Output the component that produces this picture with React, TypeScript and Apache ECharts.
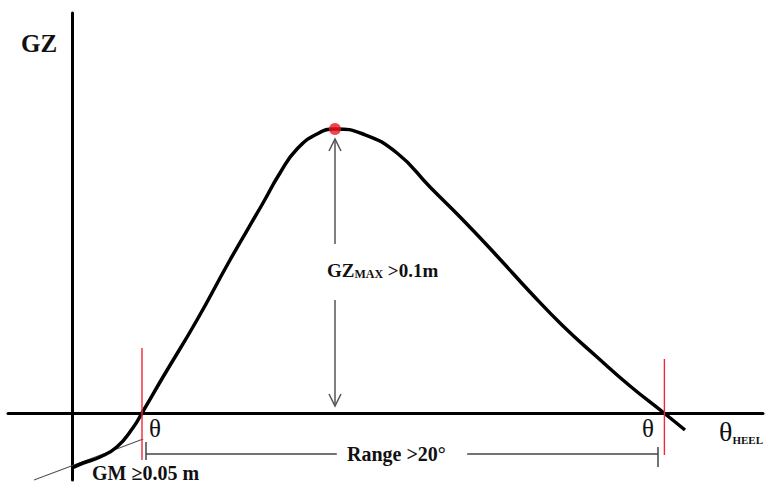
import React, { useEffect, useRef } from "react";
import * as echarts from "echarts";

// GZ curve: [heel angle (deg), GZ (m)]
const gzCurve: number[][] = [
  [0, -0.055], [1.4, -0.05], [3.5, -0.044], [5.6, -0.034], [7.6, -0.015],
  [8.75, 0], [11.375, 0.036], [15.625, 0.093], [19.75, 0.153], [23.875, 0.21],
  [26, 0.24], [28.125, 0.264], [30.625, 0.279], [32.875, 0.284], [36.375, 0.279],
  [40.625, 0.26], [44.75, 0.226], [48.875, 0.193], [53.125, 0.157], [57.25, 0.121],
  [61.375, 0.087], [65.625, 0.056], [69.75, 0.027], [74, 0], [76.625, -0.017],
];
const gzMaxPoint: number[][] = [[32.875, 0.284]];

// GM tangent line [x1, y1, x2, y2]
const tangentLine: number[][] = [[-4.75, -0.067, 8.9, -0.026]];
// red markers at the angles of vanishing stability [x1, y1, x2, y2]
const redMarkers: number[][] = [
  [8.75, 0.065, 8.75, -0.047],
  [74.05, 0.054, 74.05, -0.042],
];
// range dimension line and end ticks
const rangeLines: number[][] = [
  [9.25, -0.041, 33.1, -0.041],
  [49.4, -0.041, 73.25, -0.041],
  [9.25, -0.029, 9.25, -0.047],
  [73.25, -0.034, 73.25, -0.054],
];
// GZmax double arrow shafts: [x, yFrom, x, yTip]
const gzArrows: number[][] = [
  [32.875, 0.169, 32.875, 0.274],
  [32.875, 0.113, 32.875, 0.007],
];

const SERIF = '"Liberation Serif", "DejaVu Serif", serif';

function segRenderer(color: string, width: number, arrow: boolean) {
  return (params: any, api: any) => {
    const p1 = api.coord([api.value(0), api.value(1)]);
    const p2 = api.coord([api.value(2), api.value(3)]);
    const children: any[] = [
      {
        type: "line",
        shape: { x1: p1[0], y1: p1[1], x2: p2[0], y2: p2[1] },
        style: { stroke: color, lineWidth: width },
      },
    ];
    if (arrow) {
      const dir = p2[1] < p1[1] ? 1 : -1;
      children.push({
        type: "polyline",
        shape: {
          points: [
            [p2[0] - 6, p2[1] + dir * 12],
            [p2[0], p2[1]],
            [p2[0] + 6, p2[1] + dir * 12],
          ],
        },
        style: { stroke: color, lineWidth: width, fill: "none" },
      });
    }
    return { type: "group", children };
  };
}

export default function App() {
  const ref = useRef<HTMLDivElement>(null);
  useEffect(() => {
    if (!ref.current) return;
    const chart = echarts.init(ref.current, undefined, { renderer: "svg" });
    const axisCommon = {
      type: "value" as const,
      axisLine: { show: true, onZero: true, lineStyle: { color: "#000", width: 3 } },
      axisTick: { show: false },
      axisLabel: { show: false },
      splitLine: { show: false },
    };
    chart.setOption({
      animation: false,
      backgroundColor: "#fff",
      grid: { left: 8, right: 9, top: 13, bottom: 3 },
      xAxis: { ...axisCommon, min: -8, max: 86.375 },
      yAxis: { ...axisCommon, min: -0.067, max: 0.4 },
      series: [
        {
          type: "custom",
          renderItem: segRenderer("#555", 1.2, false),
          data: tangentLine,
          z: 1,
          clip: false,
        },
        {
          type: "line",
          data: gzCurve,
          smooth: true,
          symbol: "none",
          lineStyle: { color: "#000", width: 3.5 },
          z: 3,
        },
        {
          type: "custom",
          renderItem: segRenderer("#ee2a36", 1.4, false),
          data: redMarkers,
          z: 4,
          clip: false,
        },
        {
          type: "custom",
          renderItem: segRenderer("#444", 1.5, false),
          data: rangeLines,
          z: 4,
          clip: false,
        },
        {
          type: "custom",
          renderItem: segRenderer("#555", 1.5, true),
          data: gzArrows,
          z: 4,
          clip: false,
        },
        {
          type: "scatter",
          data: gzMaxPoint,
          symbolSize: 12,
          itemStyle: { color: "#f0141e" },
          z: 5,
        },
      ],
      graphic: [
        {
          type: "text",
          x: 21,
          y: 43,
          style: {
            text: "GZ",
            font: `bold 25px ${SERIF}`,
            fill: "#111",
            verticalAlign: "middle",
          },
        },
        {
          type: "text",
          x: 327,
          y: 270,
          style: {
            text: "{a|GZ}{b|MAX}{a| >0.1m}",
            verticalAlign: "middle",
            fill: "#111",
            rich: {
              a: { fontSize: 19, fontWeight: "bold", fontFamily: SERIF, fill: "#111", verticalAlign: "bottom", lineHeight: 20 },
              b: { fontSize: 12, fontWeight: "bold", fontFamily: SERIF, fill: "#111", verticalAlign: "bottom", lineHeight: 17 },
            },
          },
        },
        {
          type: "text",
          x: 155,
          y: 428,
          style: { text: "θ", font: `25px ${SERIF}`, fill: "#111", align: "center", verticalAlign: "middle" },
        },
        {
          type: "text",
          x: 648,
          y: 428,
          style: { text: "θ", font: `25px ${SERIF}`, fill: "#111", align: "center", verticalAlign: "middle" },
        },
        {
          type: "text",
          x: 719,
          y: 432,
          style: {
            text: "{a|θ}{b|HEEL}",
            verticalAlign: "middle",
            rich: {
              a: { fontSize: 28, fontFamily: SERIF, fill: "#111", verticalAlign: "bottom", lineHeight: 26 },
              b: { fontSize: 11, fontWeight: "bold", fontFamily: SERIF, fill: "#111", verticalAlign: "bottom", lineHeight: 17 },
            },
          },
        },
        {
          type: "text",
          x: 347,
          y: 454,
          style: {
            text: "Range >20°",
            font: `bold 20px ${SERIF}`,
            fill: "#111",
            verticalAlign: "middle",
          },
        },
        {
          type: "text",
          x: 92,
          y: 473,
          style: {
            text: "GM ≥0.05 m",
            font: `bold 20px ${SERIF}`,
            fill: "#111",
            verticalAlign: "middle",
          },
        },
      ],
    });
    return () => chart.dispose();
  }, []);
  return (
    <div
      ref={ref}
      style={{ position: "fixed", left: 0, top: 0, width: 772, height: 483, background: "#fff" }}
    />
  );
}
